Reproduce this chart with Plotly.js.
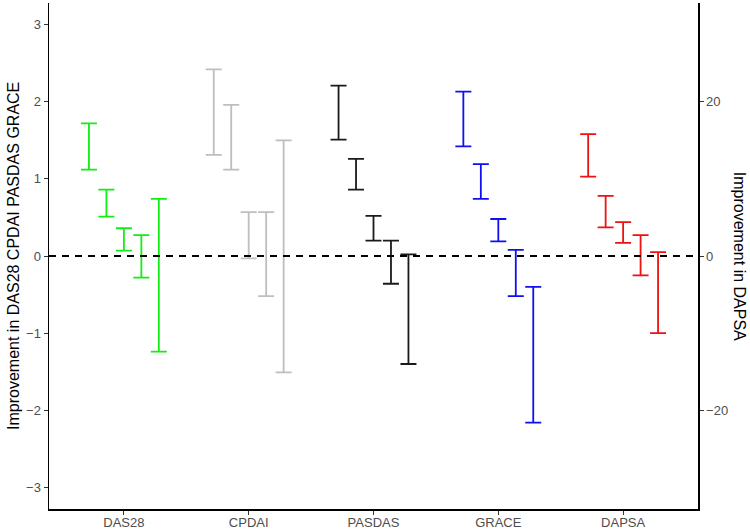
<!DOCTYPE html>
<html>
<head>
<meta charset="utf-8">
<script src="https://cdn.plot.ly/plotly-3.0.1.min.js"></script>
<style>
  body { margin: 0; background: #fff; }
  #chart { width: 750px; height: 530px; }
</style>
</head>
<body>
<div id="chart"></div>
<script>
var categories = ['DAS28', 'CPDAI', 'PASDAS', 'GRACE', 'DAPSA'];

// lower and upper limits of each interval, 5 per measure
var das28_low  = [1.12, 0.51, 0.07, -0.28, -1.24];
var das28_high = [1.72, 0.86, 0.36, 0.27, 0.74];
var cpdai_low  = [1.31, 1.12, -0.03, -0.52, -1.51];
var cpdai_high = [2.42, 1.96, 0.57, 0.57, 1.50];
var pasdas_low  = [1.51, 0.86, 0.20, -0.36, -1.40];
var pasdas_high = [2.21, 1.26, 0.52, 0.20, 0.02];
var grace_low  = [1.42, 0.74, 0.19, -0.52, -2.16];
var grace_high = [2.13, 1.19, 0.48, 0.08, -0.40];
// DAPSA is read on the right axis
var dapsa_low  = [10.3, 3.7, 1.7, -2.5, -10.0];
var dapsa_high = [15.8, 7.8, 4.4, 2.7, 0.5];

var colors = ['#11ee11', '#bebebe', '#1a1a1a', '#1010ee', '#ee1111'];
var dodge = [-0.28, -0.14, 0, 0.14, 0.28];

function makeTrace(idx, lo, hi, yaxis) {
  var xs = [], ys = [], errs = [];
  for (var j = 0; j < lo.length; j++) {
    xs.push(idx + 1 + dodge[j]);
    ys.push((lo[j] + hi[j]) / 2);
    errs.push((hi[j] - lo[j]) / 2);
  }
  return {
    x: xs,
    y: ys,
    type: 'scatter',
    mode: 'markers',
    yaxis: yaxis,
    marker: { color: 'rgba(0,0,0,0)', size: 1 },
    error_y: {
      type: 'data',
      array: errs,
      symmetric: true,
      color: colors[idx],
      thickness: 1.8,
      width: 8
    },
    hoverinfo: 'skip',
    showlegend: false
  };
}

var traces = [
  makeTrace(0, das28_low, das28_high, 'y'),
  makeTrace(1, cpdai_low, cpdai_high, 'y'),
  makeTrace(2, pasdas_low, pasdas_high, 'y'),
  makeTrace(3, grace_low, grace_high, 'y'),
  makeTrace(4, dapsa_low, dapsa_high, 'y2')
];

var tickFont = { family: 'Liberation Sans, Arial, sans-serif', size: 13, color: '#4d4d4d' };

var layout = {
  width: 750,
  height: 530,
  paper_bgcolor: '#ffffff',
  plot_bgcolor: '#ffffff',
  margin: { l: 49, r: 52, t: 3, b: 21 },
  font: { family: 'Liberation Sans, Arial, sans-serif' },
  xaxis: {
    range: [0.4, 5.6],
    tickvals: [1, 2, 3, 4, 5],
    ticktext: categories,
    ticks: 'outside',
    ticklen: 4,
    tickcolor: '#333',
    ticklabelstandoff: -3,
    showline: true,
    linecolor: '#000',
    linewidth: 1.5,
    showgrid: false,
    zeroline: false,
    tickfont: tickFont
  },
  yaxis: {
    range: [-3.28, 3.28],
    tickvals: [-3, -2, -1, 0, 1, 2, 3],
    ticks: 'outside',
    ticklen: 4,
    tickcolor: '#333',
    showline: true,
    linecolor: '#000',
    linewidth: 1.5,
    showgrid: false,
    zeroline: false,
    tickfont: tickFont
  },
  yaxis2: {
    overlaying: 'y',
    side: 'right',
    range: [-32.8, 32.8],
    tickvals: [-20, 0, 20],
    ticks: 'outside',
    ticklen: 4,
    tickcolor: '#333',
    showline: true,
    linecolor: '#000',
    linewidth: 1.5,
    showgrid: false,
    zeroline: false,
    tickfont: tickFont
  },
  shapes: [{
    type: 'line',
    xref: 'paper', yref: 'y',
    x0: 0, x1: 1, y0: 0, y1: 0,
    line: { color: '#000', width: 2, dash: '7px,6px' }
  }],
  annotations: [
    {
      text: 'Improvement in DAS28 CPDAI PASDAS GRACE',
      xref: 'paper', yref: 'paper',
      x: -0.0555, y: 0.5,
      xanchor: 'center', yanchor: 'middle',
      textangle: -90,
      showarrow: false,
      font: { size: 16, color: '#000' }
    },
    {
      text: 'Improvement in DAPSA',
      xref: 'paper', yref: 'paper',
      x: 1.065, y: 0.5,
      xanchor: 'center', yanchor: 'middle',
      textangle: 90,
      showarrow: false,
      font: { size: 16, color: '#000' }
    }
  ]
};

Plotly.newPlot('chart', traces, layout, { displayModeBar: false, staticPlot: true });
</script>
</body>
</html>
